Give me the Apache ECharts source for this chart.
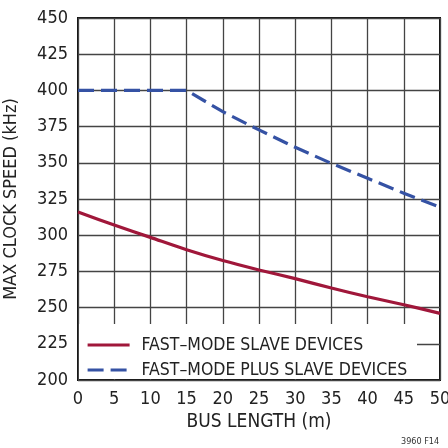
<!DOCTYPE html>
<html>
<head>
<meta charset="utf-8">
<script src="https://cdn.jsdelivr.net/npm/echarts@6/dist/echarts.min.js"></script>
<style>
  html, body { margin: 0; padding: 0; background: #fff; }
  #chart { width: 448px; height: 448px; }
</style>
</head>
<body>
<div id="chart"></div>
<script>
// Bus length (m) at which clock speed was evaluated
const busLength = [0, 5, 10, 15, 20, 25, 30, 35, 40, 45, 50];
// Max clock speed (kHz), fast-mode slave devices
const fastMode = [316, 307, 298.5, 290, 282.5, 276, 270, 263.5, 257.5, 252, 246];
// Max clock speed (kHz), fast-mode plus slave devices
const fastModePlus = [400, 400, 400, 400, 385.3, 372.7, 360.7, 349.6, 339.3, 329, 319.3];
const xTicks = [0, 5, 10, 15, 20, 25, 30, 35, 40, 45, 50];
const yTicks = [200, 225, 250, 275, 300, 325, 350, 375, 400, 425, 450];

const seriesNames = ['FAST–MODE SLAVE DEVICES', 'FAST–MODE PLUS SLAVE DEVICES'];
const FONT = '"DejaVu Sans Condensed", "Liberation Sans Narrow", sans-serif';
const RED = '#a0173a';
const BLUE = '#3552a4';

const chart = echarts.init(document.getElementById('chart'), null, { renderer: 'canvas' });

const pairs = (ys) => busLength.map((x, i) => [x, ys[i]]);

chart.setOption({
  animation: false,
  backgroundColor: '#fff',
  grid: {
    left: 78, right: 8, top: 18, bottom: 68,
    containLabel: false, outerBoundsMode: 'none',
    show: true, borderColor: '#111', borderWidth: 2, backgroundColor: 'transparent'
  },
  xAxis: {
    type: 'value', min: xTicks[0], max: xTicks[xTicks.length - 1], interval: 5,
    name: 'BUS LENGTH (m)', nameLocation: 'middle', nameGap: 33,
    nameTextStyle: { fontFamily: FONT, fontSize: 19, color: '#222' },
    axisLine: { show: false }, axisTick: { show: false },
    axisLabel: { fontFamily: FONT, fontSize: 18, color: '#222', margin: 10 },
    splitLine: { show: true, lineStyle: { color: '#444', width: 1.3 } }
  },
  yAxis: {
    type: 'value', min: yTicks[0], max: yTicks[yTicks.length - 1], interval: 25,
    name: 'MAX CLOCK SPEED (kHz)', nameLocation: 'middle', nameGap: 58, nameRotate: 90,
    nameTextStyle: { fontFamily: FONT, fontSize: 18, color: '#222' },
    axisLine: { show: false }, axisTick: { show: false },
    axisLabel: { fontFamily: FONT, fontSize: 18, color: '#222', margin: 10 },
    splitLine: { show: true, lineStyle: { color: '#444', width: 1.3 } }
  },
  legend: {
    orient: 'vertical', left: 81, top: 331, z: 10,
    itemWidth: 42, itemHeight: 14, itemGap: 7,
    itemStyle: { opacity: 0 },
    lineStyle: { width: 3.2 },
    textStyle: { fontFamily: FONT, fontSize: 17.5, color: '#222', padding: [0, 0, 0, 7] },
    data: seriesNames
  },
  graphic: [
    // white panel behind the legend, hiding the lower grid lines
    { type: 'rect', z: 5, shape: { x: 79, y: 324, width: 338, height: 55 },
      style: { fill: '#fff' } },
    { type: 'text', z: 5, left: 401, top: 437,
      style: { text: '3960 F14', fontFamily: FONT, fontSize: 9, fill: '#333' } }
  ],
  series: [
    {
      name: seriesNames[0], type: 'line', data: pairs(fastMode),
      smooth: 0.3, showSymbol: false, symbol: 'none', z: 3,
      lineStyle: { color: RED, width: 3.2 }, itemStyle: { color: RED }
    },
    {
      name: seriesNames[1], type: 'line', data: pairs(fastModePlus),
      smooth: false, showSymbol: false, symbol: 'none', z: 3,
      lineStyle: { color: BLUE, width: 3.2, type: [16, 7] }, itemStyle: { color: BLUE }
    }
  ]
});
</script>
</body>
</html>
